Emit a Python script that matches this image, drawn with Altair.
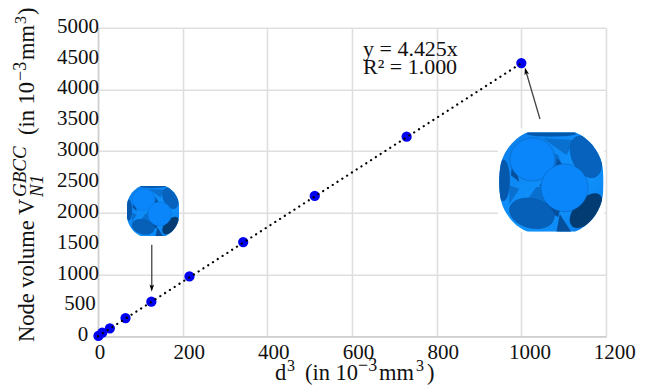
import urllib.parse
import altair as alt
import pandas as pd

FONT = "Liberation Serif"

d3_values = [1, 10, 28, 65, 126, 216, 343, 512, 729, 1000]
volumes = [5, 58, 130, 296, 560, 970, 1526, 2275, 3235, 4428]
fit_x = [0, 1000]
fit_y = [0, 4425]
x_ticks = [0, 200, 400, 600, 800, 1000, 1200]
y_ticks = [0, 500, 1000, 1500, 2000, 2500, 3000, 3500, 4000, 4500, 5000]

GLYPH = """<svg xmlns='http://www.w3.org/2000/svg' viewBox='0 0 310 300'>
<defs><linearGradient id='g' x1='0' y1='0' x2='1' y2='1'><stop offset='0' stop-color='#0a7ce8'/><stop offset='0.6' stop-color='#1094ff'/><stop offset='1' stop-color='#0a7ce8'/></linearGradient>
<clipPath id='c'><path d='M85 2 L225 2 C265 18 295 55 305 95 C312 130 312 170 305 205 C295 245 265 282 225 298 L85 298 C45 282 15 245 5 205 C-2 170 -2 130 5 95 C15 55 45 18 85 2Z'/></clipPath></defs>
<g clip-path='url(#c)'>
<rect width='310' height='300' fill='url(#g)'/>
<path d='M150 130 L185 95 L175 70 L150 60Z M30 160 L60 170 L30 215Z M200 70 L130 20 L225 25Z M150 165 L110 165 L85 200 L150 235Z' fill='#0a70d0'/>
<path d='M170 78 Q178 110 118 162 Q150 168 190 100Z M165 170 Q150 210 125 225 L175 255 L180 235Z M40 78 L35 130 L60 150Z M215 300 L180 245 L170 298Z' fill='#064f9c'/>
<ellipse cx='155' cy='6' rx='75' ry='9' fill='#0658ac'/>
<ellipse cx='12' cy='145' rx='20' ry='62' fill='#0658ac'/>
<ellipse cx='258' cy='75' rx='42' ry='66' transform='rotate(-25 258 75)' fill='#0662bc' stroke='#0554a4'/>
<ellipse cx='97' cy='243' rx='68' ry='44' transform='rotate(14 97 243)' fill='#0660b8' stroke='#0554a4'/>
<ellipse cx='258' cy='235' rx='34' ry='62' transform='rotate(42 258 235)' fill='#033c72'/>
<ellipse cx='99' cy='83' rx='67' ry='64' fill='#0a86fa' stroke='#0a62b8' stroke-width='1.5'/>
<ellipse cx='194' cy='167' rx='70' ry='71' fill='#0a86fa' stroke='#0a62b8' stroke-width='1.5'/>
</g>
</svg>"""
GLYPH_URL = "data:image/svg+xml," + urllib.parse.quote(GLYPH)

W, H = 508, 308.6
xs = alt.Scale(domain=[0, 1200], nice=False, zero=False)
ys = alt.Scale(domain=[0, 5000], nice=False, zero=False)
X = lambda f: alt.X(f, scale=xs, title=None,
                    axis=alt.Axis(values=x_ticks, labels=False, ticks=False, gridColor="#dfdfdf", gridWidth=1.6,
                                  domainColor="#cfcfcf", domainWidth=1.5))
Y = lambda f: alt.Y(f, scale=ys, title=None,
                    axis=alt.Axis(values=y_ticks, labels=False, ticks=False, gridColor="#dfdfdf", gridWidth=1.6,
                                  domainColor="#cfcfcf", domainWidth=1.5))

points_df = pd.DataFrame({"x": d3_values, "y": volumes})
fit_df = pd.DataFrame({"x": fit_x, "y": fit_y})

points = alt.Chart(points_df).mark_circle(size=105, color="#0000f0", opacity=1).encode(X("x:Q"), Y("y:Q"))
fit = alt.Chart(fit_df).mark_line(color="black", strokeWidth=2.2, strokeDash=[0.1, 5.6], strokeCap="round").encode(
    alt.X("x:Q", scale=xs), alt.Y("y:Q", scale=ys))

images_df = pd.DataFrame({"cx": [1071, 130], "cy": [2500, 2030], "url": [GLYPH_URL, GLYPH_URL]})
image_bg = alt.Chart(pd.DataFrame({"x": [945], "x2": [1196], "y": [3370], "y2": [1690]})).mark_rect(color="white").encode(
    alt.X("x:Q", scale=xs), alt.X2("x2:Q"), alt.Y("y:Q", scale=ys), alt.Y2("y2:Q"))
image_big = alt.Chart(images_df.iloc[[0]]).mark_image(width=105, height=101).encode(
    alt.X("cx:Q", scale=xs), alt.Y("cy:Q", scale=ys), url="url:N")
image_small = alt.Chart(images_df.iloc[[1]]).mark_image(width=53, height=51).encode(
    alt.X("cx:Q", scale=xs), alt.Y("cy:Q", scale=ys), url="url:N")

arrows_df = pd.DataFrame({"x": [1044, 127], "y": [3520, 1485], "x2": [1011, 127], "y2": [4290, 790], "a": [-15, 180]})
arrow_lines = alt.Chart(arrows_df).mark_rule(color="#444444", strokeWidth=1.3).encode(
    alt.X("x:Q", scale=xs), alt.X2("x2:Q"), alt.Y("y:Q", scale=ys), alt.Y2("y2:Q"))
arrow_heads = alt.Chart(arrows_df).mark_point(
    shape="M0,-1 L0.55,0.75 L0,0.35 L-0.55,0.75 Z", filled=True, color="black", size=70, opacity=1).encode(
    alt.X("x2:Q", scale=xs), alt.Y("y2:Q", scale=ys), alt.Angle("a:Q", scale=None))

ann_df = pd.DataFrame({"x": [626, 626], "y": [4545, 4255], "t": ["y = 4.425x", "R² = 1.000"]})
ann = alt.Chart(ann_df).mark_text(font=FONT, fontSize=22, align="left", baseline="alphabetic", color="#111").encode(
    alt.X("x:Q", scale=xs), alt.Y("y:Q", scale=ys), text="t:N")

x_lab = alt.Chart(pd.DataFrame({"v": x_ticks})).transform_calculate(
    t="format(datum.v,'d')", n="datum.v==0?2:(datum.v>=1000?8.7:6.5)"
).transform_calculate(p=f"datum.v/1200*{W}+datum.n").mark_text(
    font=FONT, fontSize=21, baseline="alphabetic", color="#111", y=H + 23).encode(
    alt.X("p:Q", scale=None), text="t:N")
y_lab = alt.Chart(pd.DataFrame({"v": y_ticks})).transform_calculate(
    t="format(datum.v,'d')", p="datum.v==0?-15:(datum.v==500?-18:-20)"
).mark_text(font=FONT, fontSize=21, baseline="alphabetic", color="#111", dy=5).encode(
    alt.X("p:Q", scale=None), alt.Y("v:Q", scale=ys, title=None), text="t:N")

def piece(px, py, text, size=22.5, italic=False, angle=0):
    # px, py are page pixels of the text origin
    return alt.Chart(pd.DataFrame({"t": [text]})).mark_text(
        font=FONT, fontSize=size, fontStyle="italic" if italic else "normal", align="left", baseline="alphabetic",
        color="#111", angle=angle, x=px - 98, y=py - 27.7).encode(text="t:N")

titles = [
    piece(275, 380, "d"), piece(287, 371, "3", 16), piece(305, 380, "(in 10"),
    piece(358, 371, "−3", 18), piece(379, 380, "mm"), piece(416, 371, "3", 16), piece(427, 380, ")"),
    piece(34, 342, "Node volume V", angle=270), piece(26, 197, "GBCC", 19, True, 270),
    piece(43, 197, "N1", 19, True, 270), piece(34, 135, "(in 10", angle=270),
    piece(26, 81, "−3", 18, angle=270), piece(34, 60, "mm", angle=270), piece(26, 24, "3", 16, angle=270),
    piece(34, 15, ")", angle=270),
]

chart = alt.layer(
    points.properties(width=W, height=H),
    fit, image_bg, image_big, image_small, arrow_lines, arrow_heads, ann, x_lab, y_lab, *titles
).properties(
    width=W, height=H,
    autosize=alt.AutoSizeParams(type="none"),
    padding={"left": 90, "top": 19.7, "right": 51, "bottom": 50},
).configure_view(stroke=None)

chart.save("out.html", embed_options={"renderer": "svg", "actions": False})
